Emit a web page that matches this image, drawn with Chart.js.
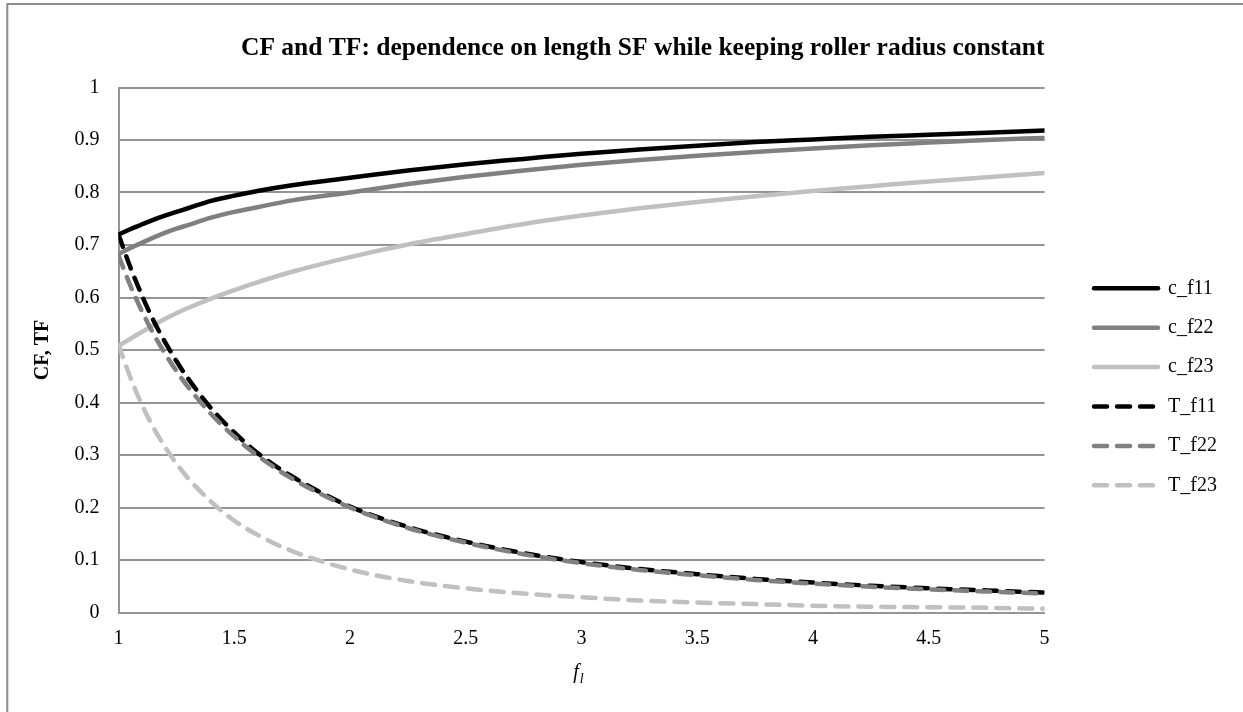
<!DOCTYPE html>
<html>
<head>
<meta charset="utf-8">
<script src="https://cdn.jsdelivr.net/npm/chart.js@4.4.1/dist/chart.umd.min.js"></script>
<style>
  html, body { margin: 0; padding: 0; background: #fff; }
  #wrap { position: relative; width: 1243px; height: 712px; }
</style>
</head>
<body>
<div id="wrap"><canvas id="chart" width="1243" height="712"></canvas></div>
<script>
// length scale factor f_l
const fVals = [1, 1.05, 1.1, 1.15, 1.2, 1.25, 1.3, 1.4, 1.5, 1.6, 1.75, 2, 2.25, 2.5, 2.75, 3, 3.25, 3.5, 3.75, 4, 4.25, 4.5, 4.75, 5];

// CF series
const cF11 = [0.720, 0.730, 0.739, 0.748, 0.756, 0.763, 0.770, 0.784, 0.794, 0.803, 0.814, 0.828, 0.842, 0.854, 0.864, 0.874, 0.882, 0.889, 0.896, 0.901, 0.906, 0.910, 0.914, 0.918];
const cF22 = [0.683, 0.694, 0.704, 0.714, 0.723, 0.731, 0.738, 0.752, 0.763, 0.772, 0.785, 0.800, 0.816, 0.830, 0.842, 0.853, 0.862, 0.870, 0.877, 0.884, 0.890, 0.895, 0.900, 0.904];
const cF23 = [0.508, 0.521, 0.534, 0.547, 0.559, 0.570, 0.580, 0.598, 0.614, 0.629, 0.649, 0.677, 0.701, 0.721, 0.740, 0.756, 0.770, 0.782, 0.793, 0.803, 0.812, 0.821, 0.829, 0.837];

// TF series
const tF11 = [0.720, 0.659, 0.605, 0.557, 0.516, 0.479, 0.446, 0.389, 0.343, 0.304, 0.259, 0.202, 0.163, 0.135, 0.113, 0.096, 0.083, 0.073, 0.064, 0.057, 0.051, 0.046, 0.042, 0.038];
const tF22 = [0.680, 0.624, 0.575, 0.532, 0.494, 0.460, 0.430, 0.378, 0.335, 0.299, 0.255, 0.200, 0.161, 0.133, 0.111, 0.094, 0.081, 0.071, 0.062, 0.055, 0.049, 0.044, 0.040, 0.036];
const tF23 = [0.510, 0.449, 0.397, 0.353, 0.316, 0.284, 0.256, 0.211, 0.175, 0.148, 0.117, 0.082, 0.060, 0.046, 0.036, 0.029, 0.023, 0.019, 0.016, 0.013, 0.011, 0.010, 0.009, 0.007];

const seriesNames = ["c_f11", "c_f22", "c_f23", "T_f11", "T_f22", "T_f23"];
const seriesValues = [cF11, cF22, cF23, tF11, tF22, tF23];
const seriesColors = ["#000000", "#808080", "#c0c0c0", "#000000", "#808080", "#c0c0c0"];
const seriesDashed = [false, false, false, true, true, true];

const xTickLabels = ["1", "1.5", "2", "2.5", "3", "3.5", "4", "4.5", "5"];
const yTickLabels = ["0", "0.1", "0.2", "0.3", "0.4", "0.5", "0.6", "0.7", "0.8", "0.9", "1"];

const titleText = "CF and TF: dependence on length SF while keeping roller radius constant";
const yTitle = "CF, TF";

const serif = "'Liberation Serif', 'Times New Roman', serif";
const gridGray = "#959595";

const datasets = seriesNames.map((name, i) => ({
  label: name,
  data: fVals.map((f, k) => ({ x: f, y: seriesValues[i][k] })),
  borderColor: seriesColors[i],
  backgroundColor: seriesColors[i],
  borderWidth: 4.5,
  borderDash: seriesDashed[i] ? [13, 10] : [],
  borderCapStyle: "round",
  borderJoinStyle: "round",
  pointRadius: 0,
  cubicInterpolationMode: "monotone",
  fill: false,
  order: seriesNames.length - i, // later series on top, like the original
}));

// legend entries taken straight from the dataset line styles
const legendItems = (chart) =>
  chart.data.datasets.map((ds, i) => ({
    text: ds.label,
    datasetIndex: i,
    fillStyle: ds.borderColor,
    strokeStyle: ds.borderColor,
    lineWidth: ds.borderWidth,
    lineDash: ds.borderDash,
    lineCap: "round",
    lineJoin: "round",
    pointStyle: "line",
    fontColor: "#000",
    hidden: false,
  }));

// frame round the chart and the f_l axis title (f with subscript l)
const extras = {
  id: "extras",
  afterDraw(chart) {
    const ctx = chart.ctx;
    const area = chart.chartArea;
    ctx.save();
    ctx.strokeStyle = "#8c8c8c";
    ctx.lineWidth = 2;
    ctx.strokeRect(7.3, 4, 1240, 712);

    ctx.fillStyle = "#000";
    ctx.textBaseline = "alphabetic";
    ctx.font = "italic 20px " + serif;
    const fW = ctx.measureText("f").width;
    ctx.font = "italic 14px " + serif;
    const lW = ctx.measureText("l").width;
    const cx = (area.left + area.right) / 2 - 3;
    const x0 = cx - (fW + lW + 1) / 2;
    ctx.font = "italic 20px " + serif;
    ctx.fillText("f", x0, 678);
    ctx.font = "italic 14px " + serif;
    ctx.fillText("l", x0 + fW + 1, 683);
    ctx.restore();
  },
};

new Chart(document.getElementById("chart"), {
  type: "line",
  data: { datasets },
  options: {
    responsive: false,
    animation: false,
    devicePixelRatio: 1,
    layout: { padding: { left: 0, right: 16.1, top: 0, bottom: 0 } },
    plugins: {
      title: {
        display: true,
        text: titleText,
        align: "end",
        fullSize: false,
        color: "#000",
        font: { family: serif, size: 25.5, weight: "bold" },
        padding: { top: 32.7, bottom: 24.2 },
      },
      legend: {
        position: "right",
        title: { display: true, text: "", font: { size: 1 }, padding: 30.2 },
        labels: {
          usePointStyle: true,
          pointStyle: "line",
          pointStyleWidth: 64,
          padding: 19.4,
          color: "#000",
          font: { family: serif, size: 20 },
          generateLabels: legendItems,
        },
      },
      tooltip: { enabled: false },
    },
    scales: {
      x: {
        type: "linear",
        min: 1,
        max: 5,
        grid: { display: false, drawTicks: false },
        border: { display: true, color: gridGray, width: 2 },
        ticks: {
          stepSize: 0.5,
          autoSkip: false,
          maxRotation: 0,
          padding: 14.5,
          color: "#000",
          font: { family: serif, size: 20 },
          callback: (v, i) => xTickLabels[i],
        },
        afterFit: (s) => { s.height = 99.5; },
      },
      y: {
        type: "linear",
        min: 0,
        max: 1,
        grid: { display: true, drawTicks: false, color: gridGray, lineWidth: 2 },
        border: { display: true, color: gridGray, width: 2 },
        ticks: {
          stepSize: 0.1,
          padding: 19,
          color: "#000",
          font: { family: serif, size: 20 },
          callback: (v, i) => yTickLabels[i],
        },
        title: {
          display: true,
          text: yTitle,
          color: "#000",
          font: { family: serif, size: 20, weight: "bold" },
          padding: { top: 31.3, bottom: 0 },
        },
        afterFit: (s) => { s.width = 118.5; },
      },
      // empty axis that only keeps the gap between plot and legend
      gap: {
        type: "linear",
        position: "right",
        display: true,
        grid: { display: false, drawTicks: false },
        border: { display: false },
        ticks: { display: false },
        afterFit: (s) => { s.width = 30.1; },
      },
    },
  },
  plugins: [extras],
});
</script>
</body>
</html>
